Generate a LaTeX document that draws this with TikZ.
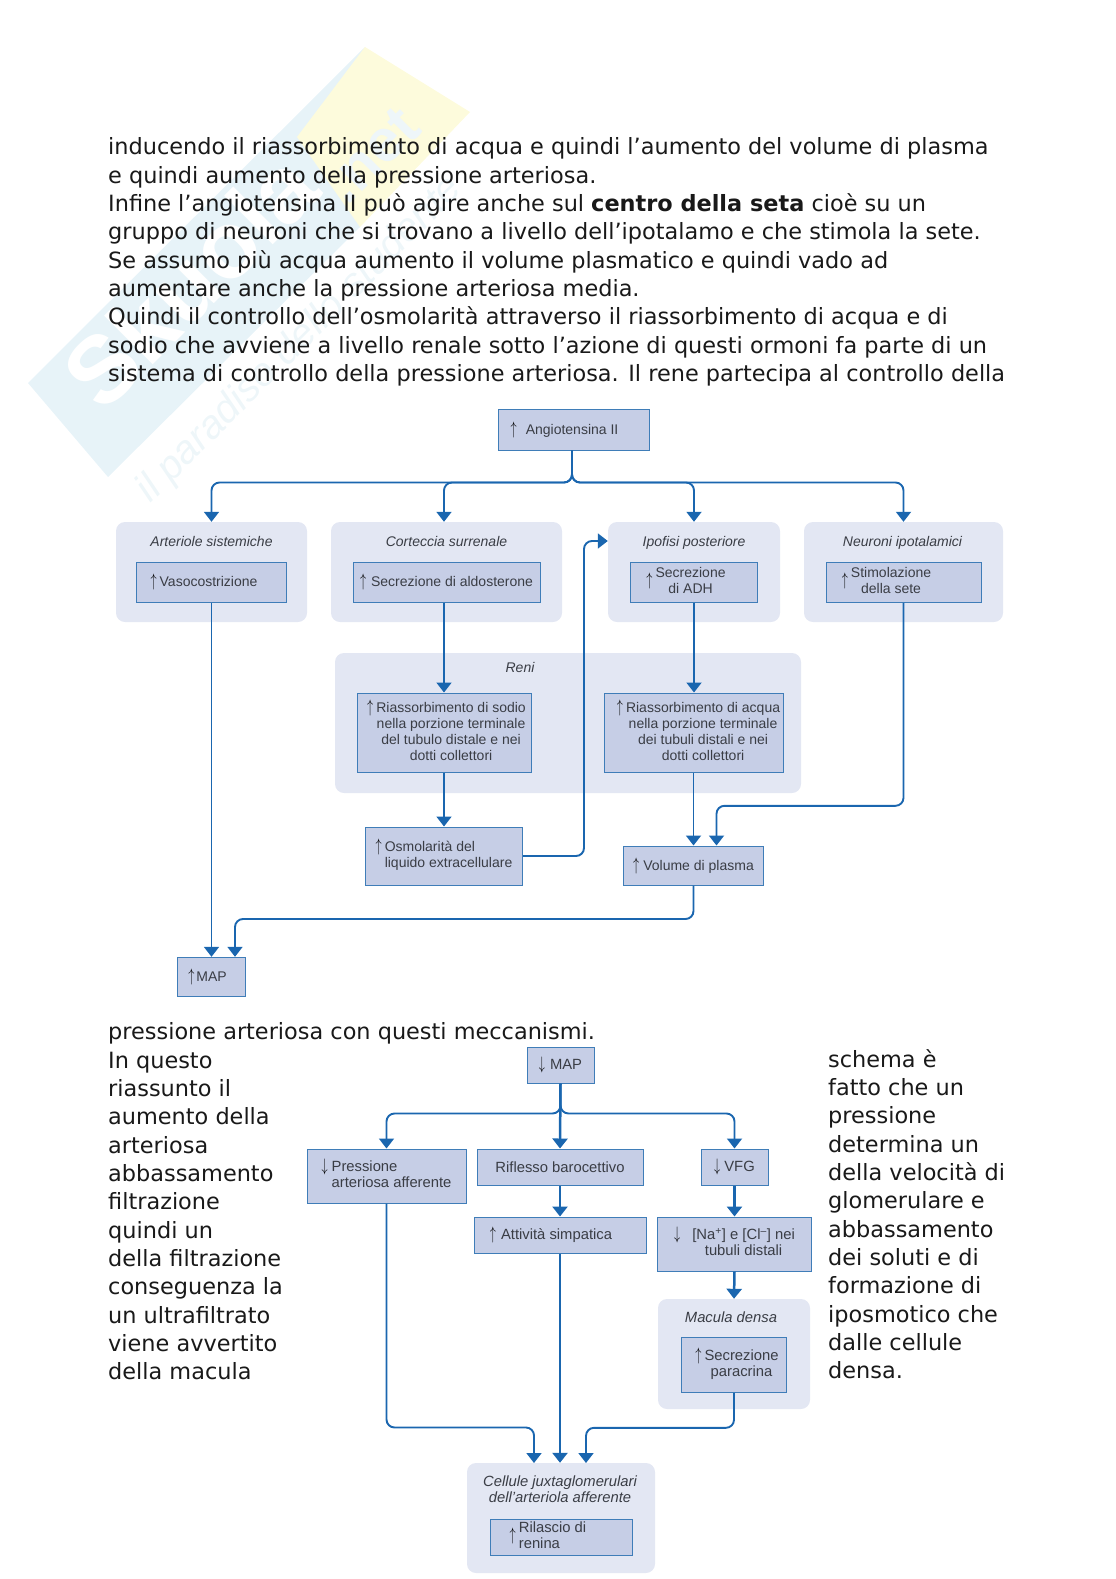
\documentclass[tikz,border=0pt]{standalone}
\usepackage{fontspec}
\usepackage{graphicx}
\usepackage{xcolor}
\usepackage{tikz}
\usetikzlibrary{arrows.meta,positioning,calc}
\setmainfont{Liberation Sans}
\newfontfamily\corpofont{DejaVu Sans}
\definecolor{bordo}{HTML}{3F7DB8}
\definecolor{blocco}{HTML}{C6CEE6}
\definecolor{sfondo}{HTML}{E3E7F3}
\definecolor{linea}{HTML}{1A66AF}
\definecolor{scritta}{HTML}{3A3D45}
\definecolor{marchio}{HTML}{E7F3F8}
\definecolor{marchiotesto}{HTML}{EEF6F9}
\definecolor{giallino}{HTML}{FDFBDC}
\newcommand{\alto}{{\color{black}\scalebox{0.85}[1.25]{$\uparrow$}}}
\newcommand{\basso}{{\color{black}\scalebox{0.85}[1.25]{$\downarrow$}}}
\newcommand{\su}[3][c]{\alto\hspace{3pt}\begin{tabular}[#1]{@{}#2@{}}#3\end{tabular}}
\newcommand{\giu}[3][c]{\basso\hspace{4pt}\begin{tabular}[#1]{@{}#2@{}}#3\end{tabular}}
\tikzset{
  taglia/.style 2 args={minimum width=#1pt, minimum height=#2pt},
  riquadro/.style={draw=bordo, fill=blocco, line width=1pt, inner sep=0pt,
                   text=scritta, font=\fontsize{14}{16}\selectfont},
  riquadrob/.style={riquadro, font=\fontsize{14.8}{16}\selectfont},
  gruppo/.style={fill=sfondo, rounded corners=9pt, inner sep=0pt},
  titolo/.style={font=\fontsize{14}{16}\selectfont\itshape, text=scritta, inner sep=0pt, align=center},
  titolob/.style={titolo, font=\fontsize{14.8}{16}\selectfont\itshape},
  riga/.style={text height=10pt, text depth=3pt},
  corpo/.style={font=\corpofont\fontsize{22.4}{28.35}\selectfont, text=black!90, inner sep=0pt,
                align=left, anchor=north west},
  freccia/.style={-{Triangle[width=15pt,length=10pt]}, line width=1.9pt, draw=linea, rounded corners=8pt},
  freccia2/.style={freccia, line width=2.5pt}
}
\begin{document}
\begin{tikzpicture}[x=1pt, y=-1pt]
  \useasboundingbox (0,0) rectangle (1116,1579);
  % marchio sullo sfondo
  \fill[marchio] (28,383) -- (365,47) -- (360,227) -- (108,477) -- cycle;
  \fill[giallino] (365,47) -- (470,112) -- (360,227) -- (297,137) -- cycle;
  \node[rotate=45, font=\bfseries\fontsize{95}{95}\selectfont, text=white, inner sep=0pt] (logo) at (190,280) {Skuola};
  \node[rotate=45, font=\bfseries\fontsize{60}{60}\selectfont, text=marchiotesto, inner sep=0pt] (net) at (372,155) {.net};
  \node[rotate=45, font=\itshape\fontsize{40}{40}\selectfont, text=marchiotesto, inner sep=0pt] (motto) at (300,340) {il paradiso dello studente};

  % testo
  \node[corpo] (testoa) at (108,137.5) {inducendo il riassorbimento di acqua e quindi l’aumento del volume di plasma\\
    e quindi aumento della pressione arteriosa.\\
    Infine l’angiotensina II può agire anche sul \textbf{centro della seta} cioè su un\\
    gruppo di neuroni che si trovano a livello dell’ipotalamo e che stimola la sete.\\
    Se assumo più acqua aumento il volume plasmatico e quindi vado ad\\
    aumentare anche la pressione arteriosa media.\\
    Quindi il controllo dell’osmolarità attraverso il riassorbimento di acqua e di\\
    sodio che avviene a livello renale sotto l’azione di questi ormoni fa parte di un\\
    sistema di controllo della pressione arteriosa. Il rene partecipa al controllo della};
  \node[corpo] (testob) at (108,1022.5) {pressione arteriosa con questi meccanismi.\\
    In questo\\ riassunto il\\ aumento della\\ arteriosa\\ abbassamento\\ filtrazione\\
    quindi un\\ della filtrazione\\ conseguenza la\\ un ultrafiltrato\\ viene avvertito\\ della macula};
  \node[corpo] (testoc) at (828,1049) {schema è\\ fatto che un\\ pressione\\ determina un\\ della velocità di\\
    glomerulare e\\ abbassamento\\ dei soluti e di\\ formazione di\\ iposmotico che\\ dalle cellule\\ densa.};

  % sfondi
  \node[gruppo, taglia={191}{100}] (art) at (211.5,572) {};
  \node[gruppo, taglia={231}{100}] (cort) at (446.5,572) {};
  \node[gruppo, taglia={172}{100}] (ipo) at (694,572) {};
  \node[gruppo, taglia={199}{100}] (neu) at (903.5,572) {};
  \node[gruppo, taglia={466}{140}] (reni) at (568,723) {};

  \node[riquadro, taglia={151}{41}] (ang) at (573.5,429.5) {\alto\hspace{9pt}Angiotensina II\kern18pt};
  \node[riquadro, taglia={150}{40}, below=40pt of art.north] (vaso) {\alto\hspace{3pt}Vasocostrizione\kern15pt};
  \node[riquadro, taglia={187}{40}, below=40pt of cort.north] (sec) {\alto\hspace{5pt}Secrezione di aldosterone};
  \node[riquadro, taglia={127}{40}, below=40pt of ipo.north] (adh) {\raisebox{-2pt}{\su{c}{Secrezione\\di ADH}}\kern16pt};
  \node[riquadro, taglia={155}{40}, below=40pt of neu.north] (sete) {\raisebox{-2pt}{\su{c}{Stimolazione\\della sete}}\kern34pt};
  \node[riquadro, taglia={174}{79}] (sodio) at (444,732.5) {\hspace{5pt}\su[t]{c}{Riassorbimento di sodio\\nella porzione terminale\\del tubulo distale e nei\\dotti collettori}};
  \node[riquadro, taglia={179}{79}] (acqua) at (693.5,732.5) {\hspace{10pt}\su[t]{c}{Riassorbimento di acqua\\nella porzione terminale\\dei tubuli distali e nei\\dotti collettori}};
  \node[riquadro, taglia={157}{58}, below=54pt of sodio] (osm) {\su[t]{l}{Osmolarità del\\liquido extracellulare}};
  \node[riquadro, taglia={140}{39}, below=73pt of acqua] (vol) {\alto\hspace{4pt}Volume di plasma};
  \node[riquadro, taglia={68}{39}, below=354pt of vaso] (mapsu) {\alto\hspace{2pt}MAP\kern8pt};

  \node[titolo, riga, above=12pt of vaso] (tart) {Arteriole sistemiche};
  \node[titolo, riga, above=12pt of sec] (tcort) {Corteccia surrenale};
  \node[titolo, riga, above=12pt of adh] (tipo) {Ipofisi posteriore};
  \node[titolo, riga, above=12pt of sete, xshift=-1pt] (tneu) {Neuroni ipotalamici};
  \node[titolo, riga] (treni) at (520,669) {Reni};

  \draw[freccia] ([xshift=-1.5pt]ang.south) -- ++(0,32) -| (art.north);
  \draw[freccia] ([xshift=-1.5pt]ang.south) -- ++(0,32) -| ([xshift=-2.5pt]cort.north);
  \draw[freccia] ([xshift=-1.5pt]ang.south) -- ++(0,32) -| (ipo.north);
  \draw[freccia] ([xshift=-1.5pt]ang.south) -- ++(0,32) -| (neu.north);
  \draw[freccia] (vaso.south) -- (mapsu.north);
  \draw[freccia] (sec.south -| sodio.north) -- (sodio.north);
  \draw[freccia] (adh.south) -- (adh.south |- acqua.north);
  \draw[freccia] (sodio.south) -- (osm.north);
  \draw[freccia] (acqua.south) -- (vol.north);
  \draw[freccia] (osm.east) -- ++(61,0) |- ([yshift=31pt]ipo.west);
  \draw[freccia] (sete.south) -- ++(0,203) -| ([xshift=23pt]vol.north);
  \draw[freccia] (vol.south) -- ++(0,33.5) -| ([xshift=23.5pt]mapsu.north);

  % secondo schema
  \node[gruppo, taglia={152}{110}] (mac) at (734,1354) {};
  \node[gruppo, taglia={188}{110}] (jux) at (561,1518) {};

  \node[riquadrob, taglia={67}{36}] (mapgiu) at (560.5,1065) {\basso\hspace{5pt}MAP};
  \node[riquadrob, taglia={159}{54}] (pres) at (386.5,1176) {\giu[t]{l}{Pressione\\arteriosa afferente}};
  \node[riquadrob, taglia={166}{36}] (rif) at (560,1167) {Riflesso barocettivo};
  \node[riquadrob, taglia={67}{36}] (vfg) at (734.5,1167) {\basso\hspace{4pt}VFG};
  \node[riquadrob, taglia={172}{36}, below=31pt of rif] (att) {\alto\hspace{5pt}Attività simpatica\kern18pt};
  \node[riquadrob, taglia={154}{54}, below=31pt of vfg] (na) {\giu[t]{c}{\hspace{8pt}[Na\textsuperscript{+}] e [Cl\textsuperscript{--}] nei\\\hspace{8pt}tubuli distali}};
  \node[riquadrob, taglia={105}{55}, below=38pt of mac.north] (par) {\hspace{6pt}\su[t]{c}{Secrezione\\paracrina}};
  \node[riquadrob, taglia={142}{36}, below=56pt of jux.north] (ril) {\su{l}{Rilascio di\\renina}\kern26pt};

  \node[titolob, riga, above=11pt of par, xshift=-3pt] (tmac) {Macula densa};
  \node[titolob, above=16pt of ril, xshift=-1pt] (tjux) {Cellule juxtaglomerulari\\dell’arteriola afferente};

  \coordinate (ing1) at (534,1463);
  \coordinate (ing3) at (586,1463);
  \draw[freccia] (mapgiu.south) -- ++(0,30) -| (pres.north);
  \draw[freccia2] (mapgiu.south) -- (rif.north);
  \draw[freccia] (mapgiu.south) -- ++(0,30) -| (vfg.north);
  \draw[freccia2] (rif.south) -- (att.north);
  \draw[freccia2] (vfg.south) -- (na.north);
  \draw[freccia2] (na.south) -- (mac.north);
  \draw[freccia] (pres.south) -- ++(0,224) -| (ing1);
  \draw[freccia2] (att.south) -- (att.south |- jux.north);
  \draw[freccia] (par.south) -- ++(0,35) -| (ing3);
\end{tikzpicture}
\end{document}
